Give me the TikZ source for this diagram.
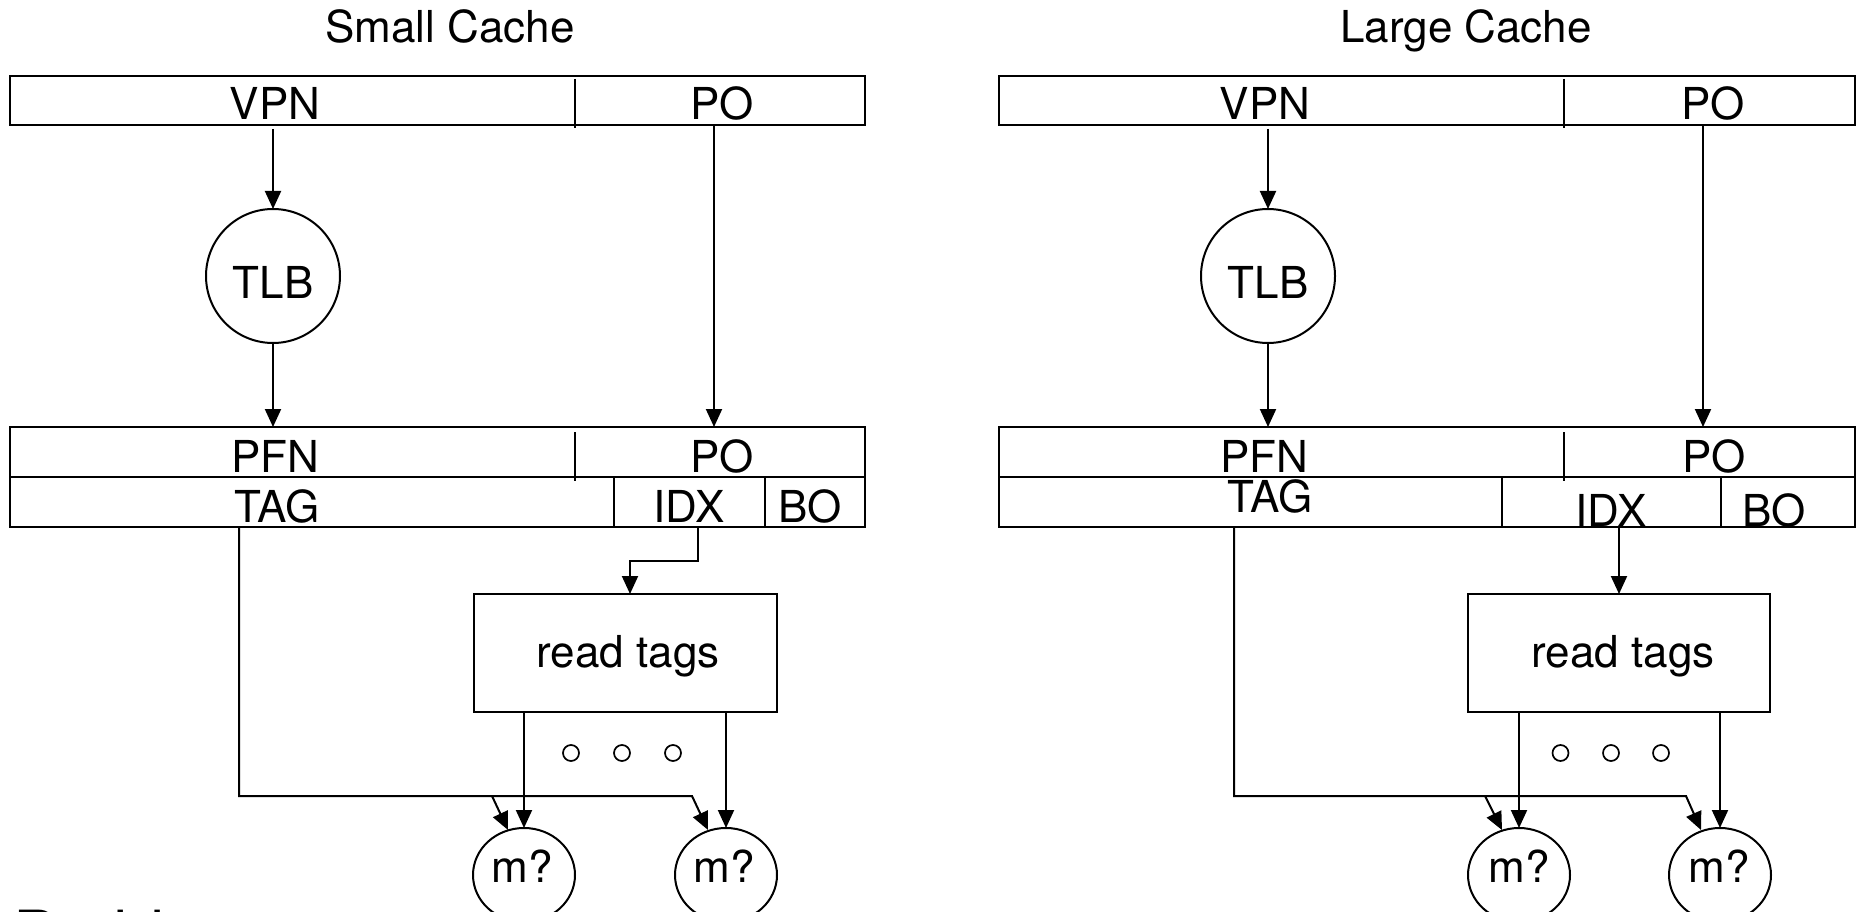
\documentclass[tikz,border=0pt]{standalone}
\usepackage{fontspec}
\setmainfont{TeX Gyre Heros}
\usetikzlibrary{arrows.meta,shapes.geometric}
\tikzset{
  lbl/.style={font=\fontsize{44pt}{50pt}\selectfont, anchor=base, inner sep=0pt, outer sep=0pt},
  bigtxt/.style={font=\fontsize{65pt}{70pt}\selectfont, anchor=base west, inner sep=0pt},
  regbox/.style={draw, line width=2.4pt, inner sep=0pt, outer sep=0pt, anchor=north west},
  divider/.style={line width=1.8pt},
  conn/.style={line width=2pt, -{Triangle[length=18pt,width=16pt]}},
  tlbc/.style={draw, circle, line width=2pt, minimum size=134pt, inner sep=0pt, outer sep=0pt},
  mq/.style={draw, ellipse, line width=2pt, minimum width=102pt, minimum height=94pt, inner sep=0pt, outer sep=0pt},
  dotc/.style={draw, circle, line width=1.7pt, minimum size=16pt, inner sep=0pt}
}
\begin{document}
\begin{tikzpicture}[x=1pt,y=-1pt]
\fill[white] (0,0) rectangle (1858,912);
\useasboundingbox (0,0) rectangle (1858,912);

% ================= Small cache =================
\node[lbl] (tS) at (450,43) {Small Cache};
\node[regbox, minimum width=855pt, minimum height=49pt] (vaL) at (10,76) {};
\draw[divider] (575,79) -- (575,128);
\node[lbl] (vpnL) at (275,120) {VPN};
\node[lbl] (poaL) at (722,120) {PO};

\node[tlbc] (tlbL) at (273,276) {};
\node[lbl] (tlbLt) at (273,298) {TLB};

\node[regbox, minimum width=855pt, minimum height=50pt] (paL) at (10,427) {};
\node[regbox, minimum width=855pt, minimum height=50pt] (caL) at (10,477) {};
\draw[divider] (575,432) -- (575,481);
\draw[divider] (614,477) -- (614,527);
\draw[divider] (765,477) -- (765,527);
\node[lbl] (pfnL) at (275,472) {PFN};
\node[lbl] (pobL) at (722,472) {PO};
\node[lbl] (tagL) at (277,522) {TAG};
\node[lbl] (idxL) at (689,522) {IDX};
\node[lbl] (boL) at (810,522) {BO};

\node[regbox, minimum width=303pt, minimum height=118pt] (rtL) at (474,594) {};
\node[lbl] (rtLt) at (628,667) {read tags};

\node[dotc] (d1L) at (571,753) {};
\node[dotc] (d2L) at (622,753) {};
\node[dotc] (d3L) at (673,753) {};

\node[mq] (m1L) at (524,875) {};
\node[mq] (m2L) at (726,875) {};
\node[lbl] (m1Lt) at (522,882) {m?};
\node[lbl] (m2Lt) at (724,882) {m?};

\coordinate (vpnoL) at (273,129);
\coordinate (pooL) at (714,125);
\coordinate (idxoL) at (698,527);
\coordinate (idxaL) at (698,561);
\coordinate (idxbL) at (630,561);
\coordinate (tagoL) at (239,527);
\coordinate (tagcL) at (239,796);
\coordinate (br1L) at (492,796);
\coordinate (br2L) at (692,796);
\coordinate (e1L) at (508,830);
\coordinate (e2L) at (708,830);

\draw[conn] (vpnoL) -- (tlbL);
\draw[conn] (tlbL) -- (tlbL |- paL.north);
\draw[conn] (pooL) -- (pooL |- paL.north);
\draw[conn] (idxoL) -- (idxaL) -- (idxbL) -- (idxbL |- rtL.north);
\draw[conn] (rtL.south -| m1L) -- (m1L);
\draw[conn] (rtL.south -| m2L) -- (m2L);
\draw[conn] (tagoL) -- (tagcL) -- (br2L) -- (e2L);
\draw[conn] (br1L) -- (e1L);

% ================= Large cache =================
\node[lbl] (tB) at (1466,43) {Large Cache};
\node[regbox, minimum width=856pt, minimum height=49pt] (vaR) at (999,76) {};
\draw[divider] (1564,79) -- (1564,128);
\node[lbl] (vpnR) at (1265,120) {VPN};
\node[lbl] (poaR) at (1713,120) {PO};

\node[tlbc] (tlbR) at (1268,276) {};
\node[lbl] (tlbRt) at (1268,298) {TLB};

\node[regbox, minimum width=856pt, minimum height=50pt] (paR) at (999,427) {};
\node[regbox, minimum width=856pt, minimum height=50pt] (caR) at (999,477) {};
\draw[divider] (1564,432) -- (1564,481);
\draw[divider] (1502,477) -- (1502,527);
\draw[divider] (1721,477) -- (1721,527);
\node[lbl] (pfnR) at (1264,472) {PFN};
\node[lbl] (pobR) at (1714,472) {PO};
\node[lbl] (tagR) at (1270,512) {TAG};
\node[lbl] (idxR) at (1611,526) {IDX};
\node[lbl] (boR) at (1774,526) {BO};

\node[regbox, minimum width=302pt, minimum height=118pt] (rtR) at (1468,594) {};
\node[lbl] (rtRt) at (1623,667) {read tags};

\node[dotc] (d1R) at (1560.5,753) {};
\node[dotc] (d2R) at (1611,753) {};
\node[dotc] (d3R) at (1661,753) {};

\node[mq] (m1R) at (1519,875) {};
\node[mq] (m2R) at (1720,875) {};
\node[lbl] (m1Rt) at (1519,882) {m?};
\node[lbl] (m2Rt) at (1719,882) {m?};

\coordinate (vpnoR) at (1268,129);
\coordinate (pooR) at (1703,125);
\coordinate (idxoR) at (1619,527);
\coordinate (tagoR) at (1234,527);
\coordinate (tagcR) at (1234,796);
\coordinate (br1R) at (1485,796);
\coordinate (br2R) at (1686,796);
\coordinate (e1R) at (1502,830);
\coordinate (e2R) at (1701,830);

\draw[conn] (vpnoR) -- (tlbR);
\draw[conn] (tlbR) -- (tlbR |- paR.north);
\draw[conn] (pooR) -- (pooR |- paR.north);
\draw[conn] (idxoR) -- (idxoR |- rtR.north);
\draw[conn] (rtR.south -| m1R) -- (m1R);
\draw[conn] (rtR.south -| m2R) -- (m2R);
\draw[conn] (tagoR) -- (tagcR) -- (br2R) -- (e2R);
\draw[conn] (br1R) -- (e1R);

% text cut off by the bottom edge, as in the reference
\node[bigtxt] (probT) at (13,957) {Problem};
\end{tikzpicture}
\end{document}
